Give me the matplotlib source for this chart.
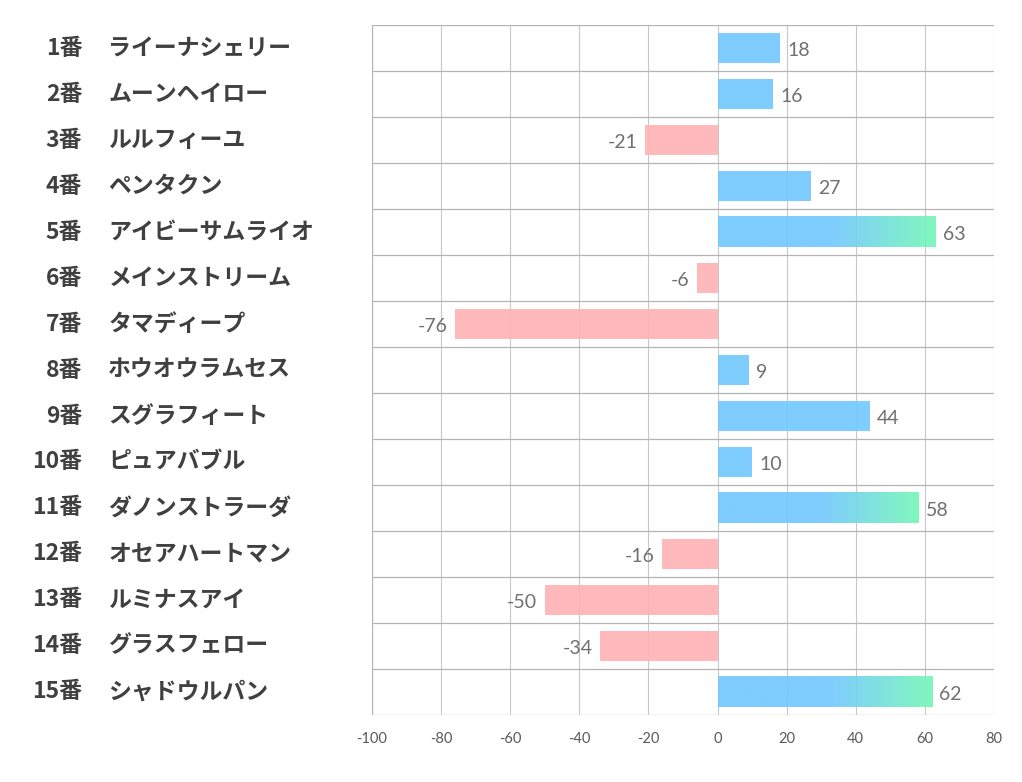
import matplotlib
matplotlib.use("Agg")
import matplotlib.pyplot as plt
import numpy as np
from matplotlib.colors import to_rgb

numbers = ["1番", "2番", "3番", "4番", "5番", "6番", "7番", "8番",
           "9番", "10番", "11番", "12番", "13番", "14番", "15番"]
names = ["ライーナシェリー", "ムーンヘイロー", "ルルフィーユ", "ペンタクン",
         "アイビーサムライオ", "メインストリーム", "タマディープ", "ホウオウラムセス",
         "スグラフィート", "ピュアバブル", "ダノンストラーダ", "オセアハートマン",
         "ルミナスアイ", "グラスフェロー", "シャドウルパン"]
values = [18, 16, -21, 27, 63, -6, -76, 9, 44, 10, 58, -16, -50, -34, 62]
xticks = [-100, -80, -60, -40, -20, 0, 20, 40, 60, 80]

BLUE = "#74c8ff"
GREEN = "#76f7b8"
PINK = "#ffb3b5"
GRID = "#c8c8c8"
jp_font = ["Noto Sans CJK JP", "DejaVu Sans"]

fig = plt.figure(figsize=(10.22, 7.82), dpi=100)
ax = fig.add_axes([0.364, 0.0857, 0.6086, 0.8823])

n = len(values)
ypos = np.arange(n)
h = 0.66

colors = [BLUE if v >= 0 else PINK for v in values]
bars = ax.barh(ypos, values, height=h, color=colors, alpha=0.92, zorder=2)

# gradient for the big positive bars
c1 = np.array(to_rgb(BLUE))
c2 = np.array(to_rgb(GREEN))
t = np.linspace(0, 1, 256)
frac = np.clip((t - 0.52) / 0.48, 0, 1)
grad = (c1[None, :] * (1 - frac[:, None]) + c2[None, :] * frac[:, None])[None, :, :]
for b, v, y in zip(bars, values, ypos):
    if v > 50:
        b.set_alpha(0)
        ax.imshow(grad, extent=[0, v, y + h / 2, y - h / 2], aspect="auto",
                  alpha=0.92, zorder=3, interpolation="bilinear")

# value labels
for v, y in zip(values, ypos):
    if v >= 0:
        ax.text(v + 2.2, y + 0.05, str(v), ha="left", va="center",
                fontsize=14, color="#707070", family="Lato")
    else:
        ax.text(v - 2.2, y + 0.05, str(v), ha="right", va="center",
                fontsize=14, color="#707070", family="Lato")

ax.set_xlim(-100, 80)
ax.set_ylim(n - 0.5, -0.5)
ax.set_xticks(xticks)
ax.set_xticklabels([str(x) for x in xticks], fontsize=10.5, color="#595959", family="Lato")
ax.set_yticks([])
ax.tick_params(axis="x", length=0, pad=12)

# grid lines
for x in xticks:
    ax.axvline(x, color=GRID, lw=0.8, zorder=1)
for k in range(n + 1):
    ax.axhline(k - 0.5, color="#b4b4b4", lw=0.9, zorder=1)
for s in ax.spines.values():
    s.set_visible(False)
ax.axvline(-100, color="#b4b4b4", lw=0.9, zorder=1)

# row labels on the left
trans = ax.get_yaxis_transform()
for num, name, y in zip(numbers, names, ypos):
    ax.text(-0.466, y, num, transform=trans, ha="right", va="center",
            fontsize=16.5, fontweight="bold", color="#404040", family=jp_font)
    ax.text(-0.424, y, name, transform=trans, ha="left", va="center",
            fontsize=16.5, fontweight="bold", color="#404040", family=jp_font)

fig.savefig("out.png", dpi=100)
